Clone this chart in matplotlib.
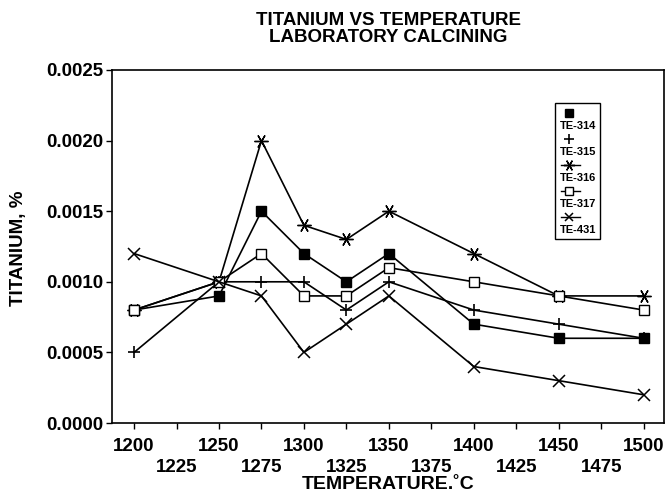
import numpy as np
import matplotlib
matplotlib.use("Agg")
import matplotlib.pyplot as plt
from matplotlib import font_manager
from matplotlib.lines import Line2D
from matplotlib.offsetbox import AnchoredOffsetbox, VPacker, DrawingArea, TextArea

plt.rcParams["font.family"] = ["Liberation Sans", "DejaVu Sans"]
plt.rcParams["font.weight"] = "bold"

# temperatures (deg C) and titanium content (%)
temperature = [1200, 1250, 1275, 1300, 1325, 1350, 1400, 1450, 1500]
te314 = [0.0008, 0.0009, 0.0015, 0.0012, 0.0010, 0.0012, 0.0007, 0.0006, 0.0006]
te315 = [0.0005, 0.0010, 0.0010, 0.0010, 0.0008, 0.0010, 0.0008, 0.0007, 0.0006]
te316 = [0.0008, 0.0010, 0.0020, 0.0014, 0.0013, 0.0015, 0.0012, 0.0009, 0.0009]
te317 = [0.0008, 0.0010, 0.0012, 0.0009, 0.0009, 0.0011, 0.0010, 0.0009, 0.0008]
te431 = [0.0012, 0.0010, 0.0009, 0.0005, 0.0007, 0.0009, 0.0004, 0.0003, 0.0002]

series_names = ["TE-314", "TE-315", "TE-316", "TE-317", "TE-431"]
x_ticks = list(range(1200, 1501, 25))
y_ticks = [0.0, 0.0005, 0.0010, 0.0015, 0.0020, 0.0025]

# marker, size, face colour, edge width, show line in legend
styles = [
    ("s", 7, "black", 1.0, False),
    ("+", 9, "black", 1.2, False),
    ((6, 2, 90), 10, "black", 1.0, True),
    ("s", 7, "white", 1.0, True),
    ("x", 8, "black", 1.1, True),
]

# narrow face for the title, if it is there
try:
    font_manager.findfont(font_manager.FontProperties(family="Liberation Sans Narrow", weight="bold"),
                          fallback_to_default=False)
    title_family = ["Liberation Sans Narrow", "Liberation Sans"]
    title_size = 15
except ValueError:
    title_family = ["Liberation Sans", "DejaVu Sans"]
    title_size = 13.5

fig = plt.figure(figsize=(6.67, 4.95), dpi=100)
ax = fig.add_axes([112 / 667, 1 - 423 / 495, 552 / 667, 353 / 495])

for values, (mk, ms, fc, mew, _) in zip([te314, te315, te316, te317, te431], styles):
    ax.plot(temperature, values, color="black", lw=1.2, marker=mk, markersize=ms,
            markerfacecolor=fc, markeredgecolor="black", markeredgewidth=mew)

ax.set_xlim(1187, 1512)
ax.set_ylim(0, 0.0025)
ax.set_yticks(y_ticks)
ax.set_yticklabels(["%.4f" % v for v in y_ticks], fontsize=13.5, fontweight="bold")
ax.set_xticks(x_ticks)
ax.set_xticklabels([str(t) if i % 2 == 0 else "\n" + str(t) for i, t in enumerate(x_ticks)],
                   fontsize=13.5, fontweight="bold")
for lab in ax.get_xticklabels():
    lab.set_linespacing(1.3)
ax.tick_params(axis="both", direction="out", length=4, width=1, color="black")
ax.tick_params(axis="x", pad=7)
ax.tick_params(axis="y", pad=2)
for sp in ax.spines.values():
    sp.set_linewidth(1.2)

fig.text(388 / 667, 1 - 12 / 495, "TITANIUM VS TEMPERATURE\nLABORATORY CALCINING",
         ha="center", va="top", fontsize=title_size, fontweight="bold", linespacing=1.0,
         family=title_family)
fig.text(388 / 667, 0.004, "TEMPERATURE.\u02daC", ha="center", va="bottom",
         fontsize=14, fontweight="bold")
fig.text(19 / 667, 1 - 248 / 495, "TITANIUM, %", rotation=90, ha="center", va="center",
         fontsize=13.5, fontweight="bold")

# legend: marker above, name below
children = []
for name, (mk, ms, fc, mew, with_line) in zip(series_names, styles):
    da = DrawingArea(18, 8, 0, 0)
    if with_line:
        da.add_artist(Line2D([1, 15], [4, 4], color="black", lw=1.0))
    da.add_artist(Line2D([7], [4], linestyle="none", marker=mk, markersize=ms * 0.8,
                         markerfacecolor=fc, markeredgecolor="black", markeredgewidth=mew))
    children.append(da)
    children.append(TextArea(name, textprops=dict(fontsize=8, fontweight="bold")))
pack = VPacker(children=children, align="left", pad=0, sep=1.8)
leg = AnchoredOffsetbox(loc="upper left", child=pack, pad=0.3, borderpad=0,
                        bbox_to_anchor=(0.803, 0.907), bbox_transform=ax.transAxes,
                        frameon=True)
leg.patch.set_edgecolor("black")
leg.patch.set_linewidth(1.0)
ax.add_artist(leg)

fig.savefig("out.png", dpi=100)
